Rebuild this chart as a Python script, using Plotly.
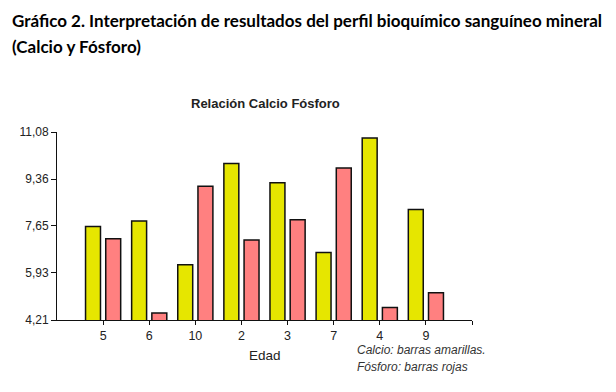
import plotly.graph_objects as go

edades = ["5", "6", "10", "2", "3", "7", "4", "9"]
calcio = [7.63, 7.83, 6.23, 9.93, 9.23, 6.68, 10.86, 8.25]
fosforo = [7.18, 4.47, 9.10, 7.13, 7.87, 9.76, 4.67, 5.21]
y_ticks = [4.21, 5.93, 7.65, 9.36, 11.08]
y_ticktext = ["4,21", "5,93", "7,65", "9,36", "11,08"]

pos = list(range(len(edades)))

fig = go.Figure()
fig.add_trace(go.Bar(x=pos, y=calcio, name="Calcio",
                     marker=dict(color="#E6E600", line=dict(color="#111111", width=1.5))))
fig.add_trace(go.Bar(x=pos, y=fosforo, name="Fósforo",
                     marker=dict(color="#FF8080", line=dict(color="#111111", width=1.5))))

fig.update_layout(
    width=616, height=392,
    margin=dict(l=57, r=144, t=132, b=72),
    paper_bgcolor="white", plot_bgcolor="white",
    barmode="group", bargap=0.124, bargroupgap=0.26,
    showlegend=False,
    font=dict(family="Liberation Sans, Arial", size=12, color="#222222"),
)
fig.update_xaxes(
    range=[-1, len(edades)], tickvals=pos + [len(edades)], ticktext=edades + [""],
    ticks="outside", ticklen=4, tickcolor="#111111", tickwidth=1,
    showline=True, linecolor="#111111", linewidth=1, showgrid=False, zeroline=False,
    tickfont=dict(size=12.5, color="#222222"),
)
fig.update_yaxes(
    range=[4.21, 11.08], tickvals=y_ticks, ticktext=y_ticktext,
    ticks="outside", ticklen=5, tickcolor="#111111", tickwidth=1,
    showline=True, linecolor="#111111", linewidth=1, showgrid=False, zeroline=False,
    tickfont=dict(size=12, color="#222222"),
)

annots = [
    dict(text="<b>Gráfico 2. Interpretación de resultados del perfil bioquímico sanguíneo mineral</b>",
         x=10, y=20, font=dict(family="Lato", size=17, color="#000000")),
    dict(text="<b>(Calcio y Fósforo)</b>",
         x=10, y=46, font=dict(family="Lato", size=17, color="#000000")),
    dict(text="<b>Relación Calcio Fósforo</b>", x=189, y=103,
         font=dict(family="Liberation Sans, Arial", size=13, color="#222222")),
    dict(text="Edad", x=247, y=355,
         font=dict(family="Liberation Sans, Arial", size=13.5, color="#222222")),
    dict(text="<i>Calcio: barras amarillas.</i>", x=355, y=350,
         font=dict(family="Liberation Sans, Arial", size=12, color="#333333")),
    dict(text="<i>Fósforo: barras rojas</i>", x=355, y=367,
         font=dict(family="Liberation Sans, Arial", size=12, color="#333333")),
]
plot_l, plot_r, plot_t, plot_b = 57, 472, 132, 320
for a in annots:
    fig.add_annotation(text=a["text"],
                       x=(a["x"] - plot_l) / (plot_r - plot_l),
                       y=(plot_b - a["y"]) / (plot_b - plot_t),
                       xref="paper", yref="paper", xanchor="left", yanchor="middle",
                       showarrow=False, font=a["font"])

fig.write_html("out.html")
